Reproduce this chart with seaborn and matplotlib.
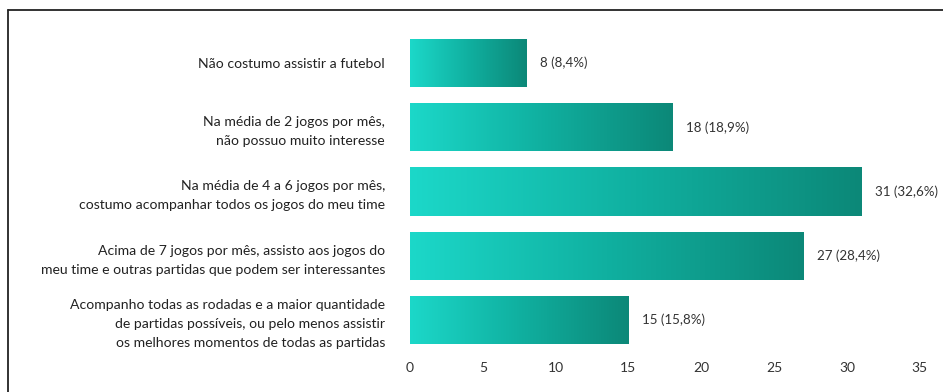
import numpy as np
import pandas as pd
import matplotlib
matplotlib.use("Agg")
import matplotlib.pyplot as plt
from matplotlib.lines import Line2D
from matplotlib.colors import LinearSegmentedColormap
import seaborn as sns

categories = [
    "Não costumo assistir a futebol",
    "Na média de 2 jogos por mês,\nnão possuo muito interesse",
    "Na média de 4 a 6 jogos por mês,\ncostumo acompanhar todos os jogos do meu time",
    "Acima de 7 jogos por mês, assisto aos jogos do\nmeu time e outras partidas que podem ser interessantes",
    "Acompanho todas as rodadas e a maior quantidade\nde partidas possíveis, ou pelo menos assistir\nos melhores momentos de todas as partidas",
]
counts = [8, 18, 31, 27, 15]
percents = ["8,4%", "18,9%", "32,6%", "28,4%", "15,8%"]
xticks = [0, 5, 10, 15, 20, 25, 30, 35]

sns.set_theme(style="white")
plt.rcParams['font.family'] = ['Lato', 'DejaVu Sans']

df = pd.DataFrame({"cat": categories, "n": counts})

fig = plt.figure(figsize=(9.43, 3.92), dpi=100)
ax = fig.add_axes([0.4348, 0.102, 0.556, 0.819])
sns.barplot(data=df, y="cat", x="n", orient="h", color="#14b5a5",
            width=0.75, ax=ax, saturation=1)

cmap = LinearSegmentedColormap.from_list("tg", ["#1cd8c9", "#10b0a0", "#0c8878"])
grad = np.linspace(0, 1, 256).reshape(1, -1)
for p in ax.patches:
    x0, y0 = p.get_x(), p.get_y()
    w, h = p.get_width(), p.get_height()
    im = ax.imshow(grad, cmap=cmap, aspect="auto",
                   extent=[x0, x0 + w, y0 + h, y0], zorder=p.get_zorder() + 0.1)
    im.set_clip_path(p)
    ax.text(x0 + w + 0.95, y0 + h / 2,
            f"{int(w)} ({percents[round(y0 + h / 2)]})",
            va="center", ha="left", fontsize=9.6, color="#333333")

ax.set_xlim(0, 36)
ax.set_ylim(4.5, -0.5)
ax.set_xticks(xticks)
ax.set_xticklabels([str(t) for t in xticks], fontsize=10, color="#333333")
ax.set_yticks(range(len(categories)))
ax.set_yticklabels(categories, fontsize=10.1, color="#222222", linespacing=1.7)
ax.tick_params(axis="y", length=0, pad=18)
ax.tick_params(axis="x", length=0, pad=7)
ax.set_xlabel("")
ax.set_ylabel("")
for s in ax.spines.values():
    s.set_visible(False)

# outer frame (top and left)
y_top = 1 - 10 / 392
x_left = 8 / 943
fig.add_artist(Line2D([x_left, 1], [y_top, y_top], transform=fig.transFigure,
                      color="#222222", lw=1.3))
fig.add_artist(Line2D([x_left, x_left], [0, y_top], transform=fig.transFigure,
                      color="#222222", lw=1.3))

fig.savefig("out.png", dpi=100, facecolor="white")
